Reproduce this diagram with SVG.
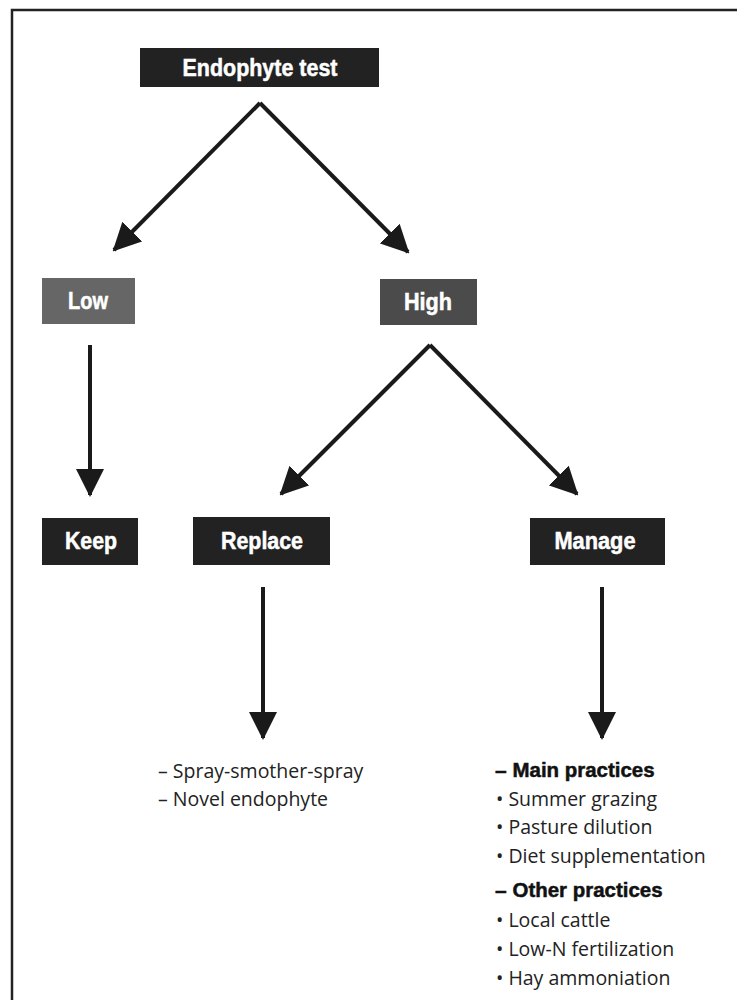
<svg xmlns="http://www.w3.org/2000/svg" width="737" height="1000" viewBox="0 0 737 1000">
<style>
.box{fill:#222}
.lbl{font-family:"Liberation Sans",Arial,sans-serif;font-weight:bold;font-size:23px;fill:#fff;stroke:#fff;stroke-width:0.5;text-anchor:middle}
.conn{stroke:#1a1a1a;stroke-width:4;fill:none}
.t{font-family:"Open Sans","Noto Sans",sans-serif;font-size:19.5px;fill:#222}
.h{font-family:"Liberation Sans",Arial,sans-serif;font-weight:bold;font-size:21px;fill:#111;stroke:#111;stroke-width:0.5}
</style>
<defs>
<marker id="ah" markerUnits="userSpaceOnUse" markerWidth="28" markerHeight="28" viewBox="0 0 28 28" refX="26" refY="14" orient="auto">
<path d="M0,0 L28,14 L0,28 z" fill="#1a1a1a"/>
</marker>
</defs>
<rect width="737" height="1000" fill="#fff"/>
<path d="M12,1000 V10 H737" fill="none" stroke="#222" stroke-width="2.5"/>
<g id="connectors">
<path class="conn" d="M260,103 L114,250" marker-end="url(#ah)"/>
<path class="conn" d="M260,103 L408,252" marker-end="url(#ah)"/>
<path class="conn" d="M90,345 V495" marker-end="url(#ah)"/>
<path class="conn" d="M430,345 L281,494" marker-end="url(#ah)"/>
<path class="conn" d="M430,345 L577,494" marker-end="url(#ah)"/>
<path class="conn" d="M263,587 V738" marker-end="url(#ah)"/>
<path class="conn" d="M602,587 V738" marker-end="url(#ah)"/>
</g>
<g id="endophyte-test"><rect class="box" x="140" y="48" width="239" height="39"/><text class="lbl" x="260" y="76" textLength="155" lengthAdjust="spacingAndGlyphs">Endophyte test</text></g>
<g id="low"><rect x="42" y="278" width="93" height="46" fill="#666"/><text class="lbl" x="88" y="309" textLength="40" lengthAdjust="spacingAndGlyphs">Low</text></g>
<g id="high"><rect x="380" y="279" width="97" height="46" fill="#4b4b4b"/><text class="lbl" x="428" y="310" textLength="48" lengthAdjust="spacingAndGlyphs">High</text></g>
<g id="keep"><rect class="box" x="42" y="518" width="96" height="47"/><text class="lbl" x="91" y="549" textLength="52" lengthAdjust="spacingAndGlyphs">Keep</text></g>
<g id="replace"><rect class="box" x="193" y="517" width="137" height="48"/><text class="lbl" x="262" y="549" textLength="82" lengthAdjust="spacingAndGlyphs">Replace</text></g>
<g id="manage"><rect class="box" x="530" y="518" width="135" height="47"/><text class="lbl" x="595" y="549" textLength="81" lengthAdjust="spacingAndGlyphs">Manage</text></g>
<g id="replace-list">
<text class="t" x="158" y="778">– Spray-smother-spray</text>
<text class="t" x="158" y="806">– Novel endophyte</text>
</g>
<g id="manage-list">
<text class="h" x="495" y="777">– <tspan textLength="142" lengthAdjust="spacingAndGlyphs">Main practices</tspan></text>
<text class="t" x="496" y="806">• Summer grazing</text>
<text class="t" x="496" y="834">• Pasture dilution</text>
<text class="t" x="496" y="863">• Diet supplementation</text>
<text class="h" x="495" y="897">– <tspan textLength="150" lengthAdjust="spacingAndGlyphs">Other practices</tspan></text>
<text class="t" x="496" y="927">• Local cattle</text>
<text class="t" x="496" y="956">• Low-N fertilization</text>
<text class="t" x="496" y="985">• Hay ammoniation</text>
</g>
</svg>
